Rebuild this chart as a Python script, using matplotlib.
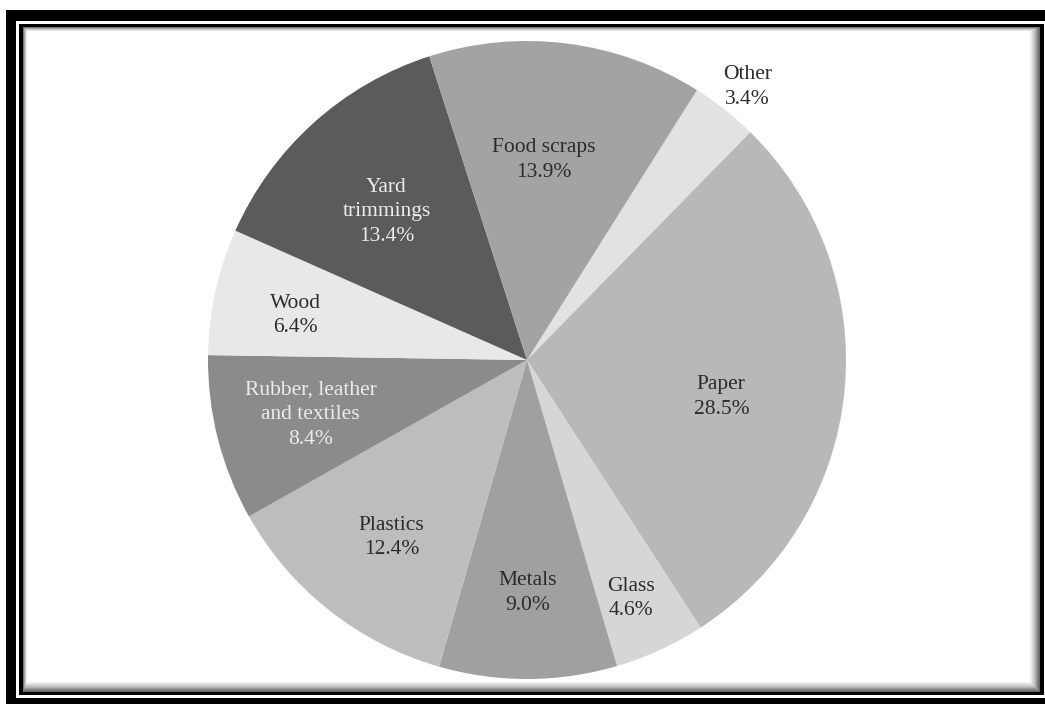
import matplotlib.pyplot as plt
import numpy as np
from matplotlib.patches import Rectangle

# Municipal solid waste by material, percent of total
materials = ["Other", "Paper", "Glass", "Metals", "Plastics",
             "Rubber, leather\nand textiles", "Wood", "Yard\ntrimmings", "Food scraps"]
shares = [3.4, 28.5, 4.6, 9.0, 12.4, 8.4, 6.4, 13.4, 13.9]

greys = ["#e2e2e2", "#b8b8b8", "#d6d6d6", "#a0a0a0", "#bdbdbd",
         "#8b8b8b", "#e8e8e8", "#5b5b5b", "#a3a3a3"]
text_colors = ["#2b2b2b", "#2b2b2b", "#2b2b2b", "#2b2b2b", "#2b2b2b",
               "#ececec", "#2b2b2b", "#ececec", "#2b2b2b"]
# how far out (fraction of radius) each label sits, and a small angular nudge
label_r = [1.10, 0.62, 0.815, 0.73, 0.70, 0.70, 0.74, 0.64, 0.63]
label_da = [-0.6, -5.0, -1.2, 0.0, 1.0, 0.0, 1.5, 1.5, 2.5]

plt.rcParams['font.family'] = ['Liberation Serif', 'DejaVu Serif']

W, H = 1045, 704
fig = plt.figure(figsize=(W / 100, H / 100), dpi=100)
fig.patch.set_facecolor("white")

# picture frame drawn in pixel coordinates
bg = fig.add_axes([0, 0, 1, 1])
bg.set_xlim(0, W)
bg.set_ylim(H, 0)
bg.axis("off")
bg.add_patch(Rectangle((6, 10), W, H, color="black", lw=0))
bg.add_patch(Rectangle((16, 21), W, 677, color="white", lw=0))
bg.add_patch(Rectangle((19, 24), 1025, 671, color="black", lw=0))
# soft inner shadow, narrow on the top/left and wider on the bottom/right
x0, y0, x1, y1 = 23, 27, 1040, 692
steps = 12
for i in range(steps):
    g = 0.30 + 0.70 * ((i + 1) / steps) ** 0.8
    lx, ty = x0 + i * 0.35, y0 + i * 0.35
    rx, by = x1 - i * 0.9, y1 - i * 0.9
    bg.add_patch(Rectangle((lx, ty), rx - lx, by - ty, color=str(min(g, 1.0)), lw=0))

# pie centred at (527, 360) px with a radius of about 319 px
cx, cy, R = 527, 360, 319
ax = fig.add_axes([(cx - R) / W, (H - cy - R) / H, 2 * R / W, 2 * R / H])
wedges, _ = ax.pie(shares, colors=greys, startangle=57.8, counterclock=False,
                   radius=1.0, wedgeprops=dict(linewidth=0))
ax.set_xlim(-1, 1)
ax.set_ylim(-1, 1)
ax.set_aspect("equal")
ax.axis("off")

for w, name, val, r, da, tc in zip(wedges, materials, shares, label_r, label_da, text_colors):
    mid = np.deg2rad((w.theta1 + w.theta2) / 2 + da)
    ax.text(r * np.cos(mid), r * np.sin(mid), f"{name}\n{val:.1f}%",
            ha="center", va="center", fontsize=15.5, color=tc,
            linespacing=1.4, clip_on=False)

fig.savefig("out.png", dpi=100)
